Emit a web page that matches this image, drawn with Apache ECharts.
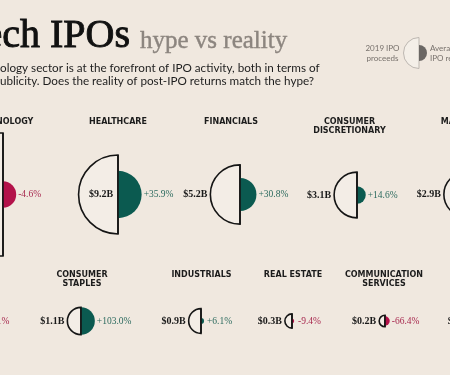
<!DOCTYPE html>
<html><head><meta charset="utf-8">
<script src="https://cdn.jsdelivr.net/npm/echarts@6/dist/echarts.min.js"></script>
<style>html,body{margin:0;padding:0;background:#f0e8df}#c{width:450px;height:375px}</style>
</head><body><div id="c"></div>
<script>
// ---- data ----
const sectors = ['TECHNOLOGY','HEALTHCARE','FINANCIALS','CONSUMER\nDISCRETIONARY','MATERIALS',
                 'ENERGY','CONSUMER\nSTAPLES','INDUSTRIALS','REAL ESTATE','COMMUNICATION\nSERVICES','UTILITIES'];
const proceeds = [22.4, 9.2, 5.2, 3.1, 2.9, 1.4, 1.1, 0.9, 0.3, 0.2, 0.1];      // 2019 IPO proceeds, $B
const returns  = [-4.6, 35.9, 30.8, 14.6, 8.0, -11.1, 103.0, 6.1, -9.4, -66.4, 5.0]; // average IPO return, %

// ---- layout (pixel-space units of the hidden axes) ----
const layoutEdgeX   = [3, 118, 240, 357, 466, -25, 81, 201, 292, 385, 479];
const layoutRowY    = [194.5, 194.5, 194.5, 195, 194.5, 321, 321, 321, 321, 321, 321];
const layoutHeadX   = [3, 118, 231, 349.5, 466, -30, 82, 201.5, 293, 384, 479];
const layoutHeadY   = [117, 117, 117, 117, 117, 270, 270, 270, 270, 270, 270];

const K = 13;
const GREEN = '#0b5a50', RED = '#b3124a', GREEN_T = '#2b6a5e', RED_T = '#a8294f';
const BG = '#f0e8df';

const data = sectors.map((s, i) => [layoutEdgeX[i], layoutRowY[i], proceeds[i], returns[i], layoutHeadX[i], layoutHeadY[i]]);

const chart = echarts.init(document.getElementById('c'));
chart.setOption({
  backgroundColor: BG,
  animation: false,
  grid: {left: 0, right: 0, top: 0, bottom: 0},
  xAxis: {type: 'value', min: 0, max: 450, show: false},
  yAxis: {type: 'value', min: 0, max: 375, inverse: true, show: false},
  series: [{
    type: 'custom',
    coordinateSystem: 'cartesian2d',
    clip: false,
    data: data,
    renderItem: function (params, api) {
      const i = params.dataIndex;
      const p = api.coord([api.value(0), api.value(1)]);
      const pr = api.value(2), rt = api.value(3);
      const r = api.size([K * Math.sqrt(pr), 0])[0];
      const rr = api.size([K * Math.sqrt(pr * Math.abs(rt) / 100), 0])[0];
      const h = api.coord([api.value(4), api.value(5)]);
      const pos = rt >= 0;
      const inside = r > 35;
      return {type: 'group', children: [
        {type: 'sector', shape: {cx: p[0], cy: p[1], r0: 0, r: r, startAngle: Math.PI / 2, endAngle: Math.PI * 1.5, clockwise: true},
         style: {fill: '#f3ede6', stroke: '#151515', lineWidth: 1.6}},
        {type: 'sector', shape: {cx: p[0], cy: p[1], r0: 0, r: rr, startAngle: -Math.PI / 2, endAngle: Math.PI / 2, clockwise: true},
         style: {fill: pos ? GREEN : RED}},
        {type: 'line', shape: {x1: p[0], y1: p[1] - r, x2: p[0], y2: p[1] + r}, style: {stroke: '#151515', lineWidth: 1.6}},
        {type: 'text', style: {text: '$' + pr.toFixed(1) + 'B', x: inside ? p[0] - r * 0.43 : p[0] - r - 3, y: p[1],
          align: inside ? 'center' : 'right', verticalAlign: 'middle', font: 'bold 10px "Liberation Serif"', fill: '#1a1a1a'}},
        {type: 'text', style: {text: (pos ? '+' : '-') + Math.abs(rt).toFixed(1) + '%', x: p[0] + Math.max(rr + 2, 6), y: p[1],
          align: 'left', verticalAlign: 'middle', font: '9.5px "Liberation Serif"', fill: pos ? GREEN_T : RED_T}},
        {type: 'text', style: {text: sectors[i], x: h[0], y: h[1], align: 'center', verticalAlign: 'top',
          font: 'bold 8px "DejaVu Sans"', fill: '#1c1c1c', lineHeight: 9.5}}
      ]};
    }
  }],
  graphic: [
    {type: 'text', x: 130, y: 36.5, style: {text: 'Tech IPOs', align: 'right', verticalAlign: 'middle', font: '40px "Liberation Serif"', fill: '#111', stroke: '#111', lineWidth: 0.9}},
    {type: 'text', x: 140, y: 41.5, style: {text: 'hype vs reality', align: 'left', verticalAlign: 'middle', font: '25px "Liberation Serif"', fill: '#8c857f', stroke: '#8c857f', lineWidth: 0.4}},
    {type: 'text', x: 0, y: 68.5, style: {text: 'ology sector is at the forefront of IPO activity, both in terms of', align: 'left', verticalAlign: 'middle', font: '11.7px Lato', fill: '#1e1e1e'}},
    {type: 'text', x: 0, y: 81.5, style: {text: 'ublicity. Does the reality of post-IPO returns match the hype?', align: 'left', verticalAlign: 'middle', font: '11.7px Lato', fill: '#1e1e1e'}},
    // legend
    {type: 'text', x: 382.5, y: 48, style: {text: '2019 IPO', align: 'center', verticalAlign: 'middle', font: '8px Lato', fill: '#77716c'}},
    {type: 'text', x: 382.5, y: 58, style: {text: 'proceeds', align: 'center', verticalAlign: 'middle', font: '8px Lato', fill: '#77716c'}},
    {type: 'sector', shape: {cx: 419, cy: 53, r0: 0, r: 15.5, startAngle: Math.PI / 2, endAngle: Math.PI * 1.5, clockwise: true},
     style: {fill: '#f4efe8', stroke: '#bdb7b1', lineWidth: 1}},
    {type: 'sector', shape: {cx: 419, cy: 53, r0: 0, r: 8, startAngle: -Math.PI / 2, endAngle: Math.PI / 2, clockwise: true},
     style: {fill: '#6b6764'}},
    {type: 'text', x: 430, y: 48, style: {text: 'Average', align: 'left', verticalAlign: 'middle', font: '8px Lato', fill: '#77716c'}},
    {type: 'text', x: 430, y: 58, style: {text: 'IPO return', align: 'left', verticalAlign: 'middle', font: '8px Lato', fill: '#77716c'}}
  ]
});
</script></body></html>
